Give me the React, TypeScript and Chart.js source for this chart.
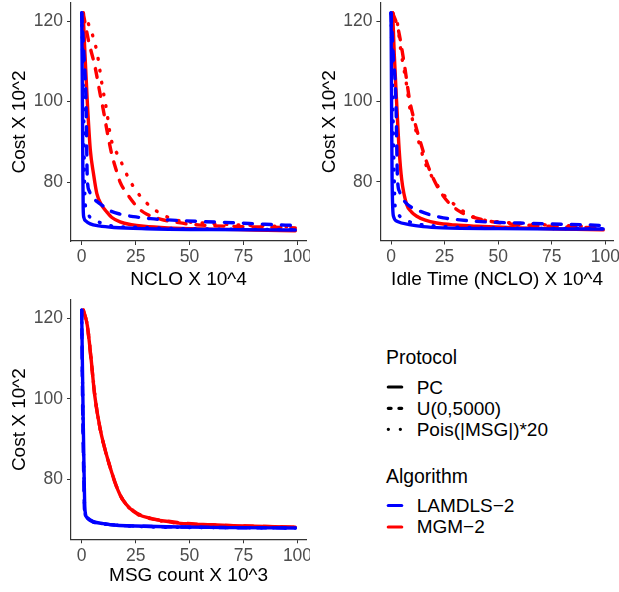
import React, { useEffect, useRef } from 'react';
import { Chart, registerables } from 'chart.js';

Chart.register(...registerables);

type Pt = [number, number];

const FONT = "'Liberation Sans', Arial, Helvetica, sans-serif";
const BLUE = '#0000FF';
const RED = '#FF0000';
const AXIS = '#333333';
const TICK = '#4D4D4D';

// Axis ticks
const xTicks = [0, 25, 50, 75, 100];
const yTicks = [80, 100, 120];

// Legend categories
const protocols = ['PC', 'U(0,5000)', 'Pois(|MSG|)*20'];
const algorithms = ['LAMDLS\u22122', 'MGM\u22122'];

// Axis titles
const xTitles = ['NCLO X 10^4', 'Idle Time (NCLO) X 10^4', 'MSG count X 10^3'];
const yTitle = 'Cost X 10^2';

// ---------- Panel 1: NCLO X 10^4 (x, cost) ----------
const ncloLamPC: Pt[] = [[0, 122], [0.2, 110], [0.4, 95], [0.55, 82], [0.7, 73.5], [1, 71.2], [2, 70.3], [4, 69.6], [8, 69.1], [15, 68.7], [30, 68.4], [60, 68.2], [99, 68.1]];
const ncloLamU: Pt[] = [[0, 122], [1, 112], [2, 100], [2.6, 81], [3.5, 77.8], [5, 76.2], [7, 75.2], [10, 74], [13, 72.9], [18, 72], [24, 71.4], [32, 70.9], [40, 70.6], [55, 70.2], [70, 69.9], [85, 69.5], [99, 69.2]];
const ncloLamPois: Pt[] = [[0, 122], [0.5, 110], [1, 95], [1.3, 81], [1.6, 75], [2.5, 72.5], [4, 71.2], [7.7, 70.1], [13.9, 69.1], [24, 68.8], [40, 68.5], [65, 68.3], [99, 68.2]];
const ncloMgmPC: Pt[] = [[0.7, 122], [1.5, 112], [2.6, 100], [4, 88], [5.5, 82], [7, 77.2], [9, 74.5], [11.6, 72.6], [14, 71.2], [17.8, 70.1], [23, 69.4], [28.7, 69], [40, 68.6], [60, 68.3], [80, 68.1], [99, 67.9]];
const ncloMgmU: Pt[] = [[0.7, 122], [3.1, 115.3], [6.2, 108.6], [8.5, 102], [10, 98], [12, 92], [13.9, 87], [16, 83], [17.8, 80], [20.9, 77.2], [26.3, 73.5], [30.2, 72], [36.4, 70.8], [45, 69.9], [55, 69.3], [70, 69], [85, 68.8], [99, 68.6]];
const ncloMgmPois: Pt[] = [[0.7, 122], [3, 119.5], [7, 112.5], [9.5, 104], [11.5, 98], [13.5, 91], [17.5, 86], [21.7, 81], [25.3, 77.8], [29.9, 74.9], [36.4, 72.2], [44.2, 70.5], [54, 69.9], [70, 69.4], [85, 69.1], [99, 68.9]];

// ---------- Panel 2: Idle Time (NCLO) X 10^4 ----------
const idleLamPC: Pt[] = [[0, 122], [0.15, 110], [0.3, 95], [0.5, 81], [0.8, 73.5], [1.2, 71.3], [3, 70.1], [8.5, 69.3], [15, 68.8], [24, 68.5], [50, 68.3], [99, 68.2]];
const idleLamU: Pt[] = [[0, 122], [1, 112], [2.3, 100], [3, 81], [4, 77.5], [5.8, 75.5], [8, 74.2], [12, 73], [18, 71.8], [24.4, 71], [32, 70.5], [40, 70.1], [60, 69.7], [80, 69.4], [99, 69.1]];
const idleLamPois: Pt[] = [[0, 122], [0.5, 110], [1, 95], [1.5, 81], [1.9, 74], [3, 72], [5, 71], [7.3, 70.3], [12, 69.5], [20, 69], [35, 68.6], [60, 68.4], [99, 68.3]];
const idleMgmPC: Pt[] = [[0.8, 122], [1.5, 112], [2.6, 100], [3.8, 88], [5, 80.5], [7.3, 74.3], [9.5, 72.5], [12, 71.4], [16, 70.4], [21.3, 69.7], [30, 69.2], [40, 68.9], [60, 68.5], [80, 68.2], [99, 68]];
const idleMgmU: Pt[] = [[0.8, 122], [3.3, 118.1], [6.4, 108.6], [8.7, 100.3], [11, 95], [13.4, 90.4], [18, 82.9], [24.4, 76.4], [32, 72.6], [43, 70.5], [55, 69.5], [70, 69], [85, 68.7], [99, 68.5]];
const idleMgmPois: Pt[] = [[0.8, 122], [3, 119.4], [4.5, 113], [7.3, 104], [8.9, 98], [12, 92], [13.5, 88.8], [16.6, 83.8], [20.5, 80.1], [25.2, 76.4], [30.6, 73.9], [36.1, 71.8], [43, 70.5], [52.4, 69.9], [70, 69.3], [85, 69], [99, 68.8]];

// ---------- Panel 3: MSG count X 10^3 ----------
const msgLamPC: Pt[] = [[0, 122], [0.3, 110], [0.7, 95], [1.1, 82], [1.5, 72.5], [2.5, 70.5], [5.4, 69.5], [10, 69], [16.2, 68.6], [25, 68.4], [39.5, 68.2], [70, 68], [99, 67.9]];
const msgLamU: Pt[] = [[0, 122], [0.2, 110], [0.5, 95], [0.9, 82], [1.3, 72.5], [2.3, 70.5], [5, 69.5], [10, 69], [16, 68.6], [25, 68.4], [40, 68.2], [70, 68], [99, 67.9]];
const msgLamPois: Pt[] = [[0, 122], [0.25, 110], [0.6, 95], [1, 82], [1.4, 72.4], [2.4, 70.4], [5.2, 69.4], [10, 68.9], [16, 68.6], [25, 68.3], [40, 68.1], [70, 68], [99, 67.9]];
const msgMgmPC: Pt[] = [[0.75, 122], [2.6, 118.3], [4.5, 109.2], [6, 101], [8.5, 92.7], [12.4, 84.4], [17.8, 76.1], [24, 72], [31.8, 70.3], [40, 69.5], [47.3, 69], [60, 68.7], [70.5, 68.5], [85, 68.3], [99, 68.1]];
const msgMgmU: Pt[] = [[0.75, 122], [2.5, 118.5], [4.4, 109.5], [6, 101.2], [8.4, 93], [12.3, 84.6], [17.6, 76.3], [24, 72.2], [31.5, 70.4], [40, 69.6], [47, 69.1], [60, 68.7], [70, 68.5], [85, 68.3], [99, 68.1]];
const msgMgmPois: Pt[] = [[0.75, 122], [2.7, 118], [4.6, 109], [6.1, 100.8], [8.6, 92.4], [12.5, 84.2], [18, 75.9], [24.2, 71.9], [32, 70.2], [40, 69.4], [47.5, 69], [60, 68.6], [70, 68.4], [85, 68.2], [99, 68.1]];

const DASHES: number[][] = [[], [9, 10], [0.8, 11.2]];
const X_MIN = -4.95;
const X_MAX = 103.95;

type PanelProps = {
  left: number; top: number; width: number; height: number;
  plotLeft: number; plotTop: number; plotRight: number; plotBottom: number;
  xTitle: string; yMin: number; yMax: number; series: Pt[][]; xTitlePad: number;
};

function Panel(p: PanelProps) {
  const ref = useRef<HTMLCanvasElement | null>(null);
  useEffect(() => {
    if (!ref.current) return;
    const datasets = p.series.map((pts, i) => {
      const alg = Math.floor(i / 3);
      const proto = i % 3;
      return {
        label: `${algorithms[alg]} ${protocols[proto]}`,
        data: pts.map(([x, y]) => ({ x, y })),
        showLine: true,
        pointRadius: 0,
        borderColor: alg === 0 ? BLUE : RED,
        backgroundColor: alg === 0 ? BLUE : RED,
        borderWidth: 3.4,
        borderDash: DASHES[proto],
        borderCapStyle: 'round',
        borderJoinStyle: 'round',
        cubicInterpolationMode: 'monotone',
        fill: false,
      };
    });
    const chart = new Chart(ref.current, {
      type: 'scatter',
      data: { datasets } as any,
      options: {
        animation: false,
        responsive: false,
        events: [],
        layout: { padding: { left: 0, top: p.plotTop, right: p.width - p.plotRight, bottom: 0 } },
        plugins: { legend: { display: false }, tooltip: { enabled: false } },
        scales: {
          x: {
            type: 'linear',
            position: 'bottom',
            min: X_MIN,
            max: X_MAX,
            afterBuildTicks: (s: any) => { s.ticks = xTicks.map((v) => ({ value: v })); },
            afterFit: (s: any) => { s.height = p.height - p.plotBottom; s.paddingLeft = 0; s.paddingRight = 0; },
            grid: { drawOnChartArea: false, drawTicks: true, tickLength: 4, color: AXIS, lineWidth: 1 },
            border: { display: true, color: AXIS, width: 1.2 },
            ticks: { color: TICK, font: { family: FONT, size: 17.5 }, padding: 2, autoSkip: false, maxRotation: 0, minRotation: 0, callback: (v: any) => String(v) },
            title: { display: true, text: p.xTitle, color: '#000', font: { family: FONT, size: 19, lineHeight: 1.2 }, padding: { top: 0, bottom: p.xTitlePad } },
          },
          y: {
            type: 'linear',
            position: 'left',
            min: p.yMin,
            max: p.yMax,
            afterBuildTicks: (s: any) => { s.ticks = yTicks.map((v) => ({ value: v })); },
            afterFit: (s: any) => { s.width = p.plotLeft; s.paddingTop = 0; s.paddingBottom = 0; },
            grid: { drawOnChartArea: false, drawTicks: true, tickLength: 4, color: AXIS, lineWidth: 1 },
            border: { display: true, color: AXIS, width: 1.2 },
            ticks: { color: TICK, font: { family: FONT, size: 17.5 }, padding: 4, autoSkip: false, callback: (v: any) => String(v) },
            title: { display: true, text: yTitle, color: '#000', font: { family: FONT, size: 19, lineHeight: 1.2 }, padding: { top: 8.6, bottom: 0 } },
          },
        },
      } as any,
    });
    return () => chart.destroy();
  }, []);
  return (
    <canvas
      ref={ref}
      width={p.width}
      height={p.height}
      style={{ position: 'absolute', left: p.left, top: p.top, width: p.width, height: p.height }}
    />
  );
}

function Legend() {
  const ox = 370;
  const oy = 330;
  const keyX1 = 388.3 - ox;
  const keyX2 = 401.7 - ox;
  const textX = 416.7 - ox;
  const fs = 19;
  const protoRows = [
    { base: 393.5, key: 387, dash: '' },
    { base: 414.5, key: 408.3, dash: '2.8 7.8' },
    { base: 435.5, key: 429.3, dash: '0.1 11.9' },
  ];
  const algRows = [
    { base: 512, key: 505.5, color: BLUE },
    { base: 533, key: 527, color: RED },
  ];
  return (
    <svg
      width={249}
      height={230}
      style={{ position: 'absolute', left: ox, top: oy, overflow: 'visible' }}
      fontFamily={FONT}
    >
      <text x={386 - ox} y={364 - oy} fontSize={19.4} fill="#000">Protocol</text>
      {protocols.map((name, i) => (
        <g key={name}>
          <line x1={keyX1} x2={keyX2} y1={protoRows[i].key - oy} y2={protoRows[i].key - oy} stroke="#000" strokeWidth={3.2} strokeLinecap="round" strokeDasharray={protoRows[i].dash || undefined} />
          <text x={textX} y={protoRows[i].base - oy} fontSize={fs} fill="#000">{name}</text>
        </g>
      ))}
      <text x={386 - ox} y={483 - oy} fontSize={19.4} fill="#000">Algorithm</text>
      {algorithms.map((name, i) => (
        <g key={name}>
          <line x1={keyX1} x2={keyX2} y1={algRows[i].key - oy} y2={algRows[i].key - oy} stroke={algRows[i].color} strokeWidth={3.2} strokeLinecap="round" />
          <text x={textX} y={algRows[i].base - oy} fontSize={fs} fill="#000">{name}</text>
        </g>
      ))}
    </svg>
  );
}

export default function App() {
  return (
    <div style={{ position: 'absolute', left: 0, top: 0, width: 619, height: 592, background: '#fff', overflow: 'hidden' }}>
      <Panel
        left={0} top={0} width={310} height={295}
        plotLeft={71} plotTop={3} plotRight={306} plotBottom={241}
        xTitle={xTitles[0]} yMin={65.35} yMax={124.5} xTitlePad={3.6}
        series={[ncloLamPC, ncloLamU, ncloLamPois, ncloMgmPC, ncloMgmU, ncloMgmPois]}
      />
      <Panel
        left={310} top={0} width={309} height={295}
        plotLeft={70.4} plotTop={3} plotRight={303.8} plotBottom={240.5}
        xTitle={xTitles[1]} yMin={65.35} yMax={124.5} xTitlePad={3.6}
        series={[idleLamPC, idleLamU, idleLamPois, idleMgmPC, idleMgmU, idleMgmPois]}
      />
      <Panel
        left={0} top={295} width={310} height={297}
        plotLeft={71} plotTop={5} plotRight={306} plotBottom={244.3}
        xTitle={xTitles[2]} yMin={65.1} yMax={124.55} xTitlePad={5}
        series={[msgLamPC, msgLamU, msgLamPois, msgMgmPC, msgMgmU, msgMgmPois]}
      />
      <Legend />
    </div>
  );
}
